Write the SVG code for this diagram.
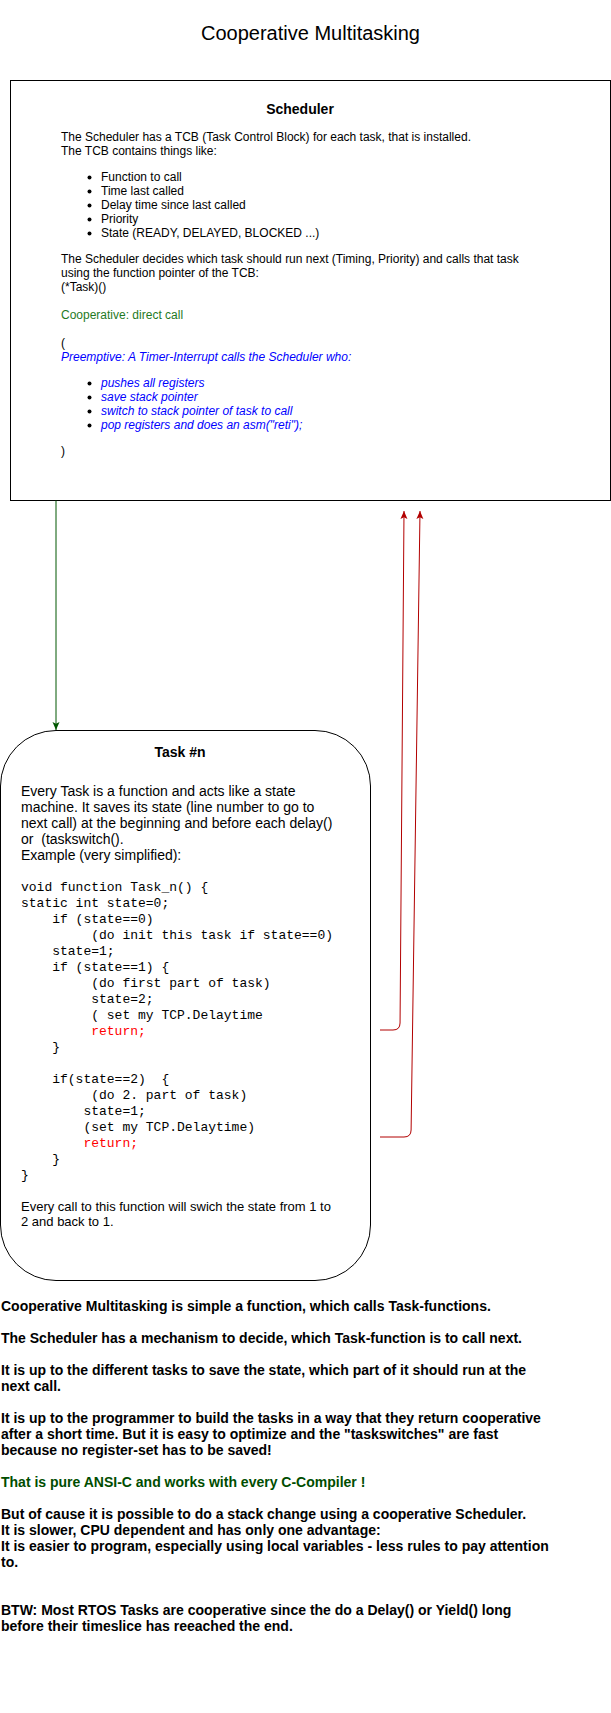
<svg xmlns="http://www.w3.org/2000/svg" width="611" height="1713" viewBox="0 0 611 1713">
<style>
.sans{font-family:"Liberation Sans",Arial,Helvetica,sans-serif;fill:#000}
.mono{font-family:"Liberation Mono","Courier New",monospace;font-size:13px;fill:#000}
.s12{font-size:12px}
.s13{font-size:13px}
.s14{font-size:14px}
.b{font-weight:bold}
.green{fill:#1f7a1f}
.dgreen{fill:#004d00}
.blue{fill:#0000ff;font-style:italic}
.red{fill:#ff0000}
.box{fill:#fff;stroke:#000;stroke-width:1}
.bullet{fill:#000}
</style>
<defs>
<marker id="arrG" viewBox="0 0 8 8" refX="8" refY="4" markerWidth="8" markerHeight="8" markerUnits="userSpaceOnUse" orient="auto">
<path d="M0,0.5 L8,4 L0,7.5 L1.8,4 Z" fill="#005700"/>
</marker>
<marker id="arrR" viewBox="0 0 8 8" refX="8" refY="4" markerWidth="8" markerHeight="8" markerUnits="userSpaceOnUse" orient="auto">
<path d="M0,0.5 L8,4 L0,7.5 L1.8,4 Z" fill="#b20000"/>
</marker>
</defs>
<rect x="0" y="0" width="611" height="1713" fill="#fff"/>

<g id="title">
<text class="sans" x="310.5" y="40" font-size="20" text-anchor="middle">Cooperative Multitasking</text>
</g>

<g id="scheduler">
<rect class="box" x="10.5" y="80.5" width="600" height="420"/>
<text class="sans s14 b" x="300" y="114" text-anchor="middle">Scheduler</text>
<g class="sans s12">
<text x="61" y="141">The Scheduler has a TCB (Task Control Block) for each task, that is installed.</text>
<text x="61" y="155">The TCB contains things like:</text>
<text x="101" y="181">Function to call</text>
<text x="101" y="195">Time last called</text>
<text x="101" y="209">Delay time since last called</text>
<text x="101" y="223">Priority</text>
<text x="101" y="237">State (READY, DELAYED, BLOCKED ...)</text>
<text x="61" y="263">The Scheduler decides which task should run next (Timing, Priority) and calls that task</text>
<text x="61" y="277">using the function pointer of the TCB:</text>
<text x="61" y="291">(*Task)()</text>
<text class="green" x="61" y="319">Cooperative: direct call</text>
<text x="61" y="347">(</text>
<text class="blue" x="61" y="361">Preemptive: A Timer-Interrupt calls the Scheduler who:</text>
<text class="blue" x="101" y="387">pushes all registers</text>
<text class="blue" x="101" y="401">save stack pointer</text>
<text class="blue" x="101" y="415">switch to stack pointer of task to call</text>
<text class="blue" x="101" y="429">pop registers and does an asm("reti");</text>
<text x="61" y="455">)</text>
</g>
<g class="bullet">
<circle cx="89.5" cy="177.5" r="2"/>
<circle cx="89.5" cy="191.5" r="2"/>
<circle cx="89.5" cy="205.5" r="2"/>
<circle cx="89.5" cy="219.5" r="2"/>
<circle cx="89.5" cy="233.5" r="2"/>
<circle cx="89.5" cy="383.5" r="2"/>
<circle cx="89.5" cy="397.5" r="2"/>
<circle cx="89.5" cy="411.5" r="2"/>
<circle cx="89.5" cy="425.5" r="2"/>
</g>
</g>

<g id="task">
<rect class="box" x="0.5" y="730.5" width="370" height="550" rx="55.5" ry="55.5"/>
<text class="sans s14 b" x="180" y="756.5" text-anchor="middle">Task #n</text>
<g class="sans s14">
<text x="21" y="796">Every Task is a function and acts like a state</text>
<text x="21" y="812">machine. It saves its state (line number to go to</text>
<text x="21" y="828">next call) at the beginning and before each delay()</text>
<text x="21" y="844" xml:space="preserve">or  (taskswitch().</text>
<text x="21" y="860">Example (very simplified):</text>
</g>
<g class="mono">
<text x="21" y="891">void function Task_n() {</text>
<text x="21" y="907">static int state=0;</text>
<text x="52.2" y="923">if (state==0)</text>
<text x="91.2" y="939">(do init this task if state==0)</text>
<text x="52.2" y="955">state=1;</text>
<text x="52.2" y="971">if (state==1) {</text>
<text x="91.2" y="987">(do first part of task)</text>
<text x="91.2" y="1003">state=2;</text>
<text x="91.2" y="1019">( set my TCP.Delaytime</text>
<text class="red" x="91.2" y="1035">return;</text>
<text x="52.2" y="1051">}</text>
<text x="52.2" y="1083" xml:space="preserve">if(state==2)  {</text>
<text x="91.2" y="1099">(do 2. part of task)</text>
<text x="83.4" y="1115">state=1;</text>
<text x="83.4" y="1131">(set my TCP.Delaytime)</text>
<text class="red" x="83.4" y="1147">return;</text>
<text x="52.2" y="1163">}</text>
<text x="21" y="1179">}</text>
</g>
<g class="sans s13">
<text x="21" y="1211">Every call to this function will swich the state from 1 to</text>
<text x="21" y="1226">2 and back to 1.</text>
</g>
</g>

<g id="notes" class="sans s14 b">
<text x="1" y="1311">Cooperative Multitasking is simple a function, which calls Task-functions.</text>
<text x="1" y="1343">The Scheduler has a mechanism to decide, which Task-function is to call next.</text>
<text x="1" y="1375">It is up to the different tasks to save the state, which part of it should run at the</text>
<text x="1" y="1391">next call.</text>
<text x="1" y="1423">It is up to the programmer to build the tasks in a way that they return cooperative</text>
<text x="1" y="1439">after a short time. But it is easy to optimize and the "taskswitches" are fast</text>
<text x="1" y="1455">because no register-set has to be saved!</text>
<text class="dgreen" x="1" y="1487">That is pure ANSI-C and works with every C-Compiler !</text>
<text x="1" y="1519">But of cause it is possible to do a stack change using a cooperative Scheduler.</text>
<text x="1" y="1535">It is slower, CPU dependent and has only one advantage:</text>
<text x="1" y="1551">It is easier to program, especially using local variables - less rules to pay attention</text>
<text x="1" y="1567">to.</text>
<text x="1" y="1615">BTW: Most RTOS Tasks are cooperative since the do a Delay() or Yield() long</text>
<text x="1" y="1631">before their timeslice has reeached the end.</text>
</g>

<g id="connectors" fill="none">
<path d="M56,500.5 L56,730" stroke="#005700" stroke-width="1" marker-end="url(#arrG)"/>
<path d="M380,1030 L393,1030 Q400,1030 400.05,1023 L404,511" stroke="#b20000" stroke-width="1" marker-end="url(#arrR)"/>
<path d="M380,1137 L404,1137 Q411,1137 411.1,1130 L420,511" stroke="#b20000" stroke-width="1" marker-end="url(#arrR)"/>
</g>
</svg>
